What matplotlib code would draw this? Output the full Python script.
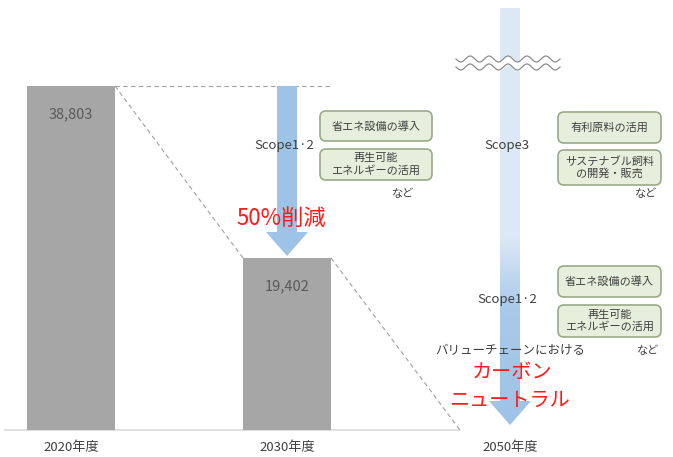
import matplotlib.pyplot as plt
import numpy as np
from matplotlib.patches import FancyBboxPatch, Polygon
from matplotlib.colors import LinearSegmentedColormap

plt.rcParams['font.family'] = ['Noto Sans CJK JP', 'DejaVu Sans']

years = ["2020年度", "2030年度", "2050年度"]
emissions = [38803, 19402]
value_labels = ["38,803", "19,402"]
bar_x = [71, 287]
arrow_x = [287, 510]

# pixel scale: 38,803 t -> 344 px, baseline at pixel y=430
UNIT = emissions[0] / 344.0
BASE = 430


def py(p):
    """pixel y -> data value"""
    return (BASE - p) * UNIT


fig = plt.figure(figsize=(6.73, 4.57), dpi=100)
ax = fig.add_axes([0, 0, 1, 1])
ax.set_xlim(0, 673)
ax.set_ylim(py(457), py(0))
ax.axis("off")

gray = "#A6A6A6"
ax.bar(bar_x, emissions, width=88, color=gray, zorder=2)
ax.plot([5, 460], [0, 0], color="#D9D9D9", lw=1.2, zorder=1)

for x, v, lab in zip(bar_x, emissions, value_labels):
    ax.text(x, v - 28 * UNIT, lab, ha="center", va="center", fontsize=10.5, color="#595959", zorder=3)

for x, lab in zip([71, 287, 510], years):
    ax.text(x, py(447), lab, ha="center", va="center", fontsize=9.5, color="#404040")

# dashed guide lines
dash = dict(color="#A0A0A0", lw=0.8, ls=(0, (4, 3)), zorder=1)
ax.plot([115, 330], [emissions[0], emissions[0]], **dash)
ax.plot([115, 243], [emissions[0], emissions[1]], **dash)
ax.plot([331, 460], [emissions[1], 0], **dash)


def arrow_poly(xc, ytop, ybot, shaft=10, head=21, head_len=24):
    return [(xc - shaft, py(ytop)), (xc + shaft, py(ytop)), (xc + shaft, py(ybot - head_len)),
            (xc + head, py(ybot - head_len)), (xc, py(ybot)), (xc - head, py(ybot - head_len)),
            (xc - shaft, py(ybot - head_len))]


blue = "#9DC3E6"
ax.add_patch(Polygon(arrow_poly(arrow_x[0], 86, 256), closed=True, color=blue, lw=0, zorder=2))

# gradient arrow for 2050
poly = Polygon(arrow_poly(arrow_x[1], 8, 425), closed=True, facecolor="none", lw=0, zorder=2)
ax.add_patch(poly)
cmap = LinearSegmentedColormap.from_list("g", [(0, "#DEE9F5"), (0.55, "#DCE8F5"), (0.72, "#A9CAEA"), (1, "#9DC3E6")])
grad = np.linspace(0, 1, 256).reshape(-1, 1)
im = ax.imshow(grad, cmap=cmap, aspect="auto", extent=[arrow_x[1] - 22, arrow_x[1] + 22, py(425), py(8)],
               origin="upper", zorder=2)
im.set_clip_path(poly)

# wavy break
xs = np.linspace(456, 560, 300)
wave = 3 * np.sin((xs - 456) / 104 * 2 * np.pi * 5.5)
ax.fill_between(xs, py(59 + wave), py(67 + wave), color="white", zorder=2.5)
for off in [59, 67]:
    ax.plot(xs, py(off + wave), color="#8C8C8C", lw=0.9, zorder=3)


def box(x0, y0, x1, y1, text):
    ax.add_patch(FancyBboxPatch((x0, py(y1)), x1 - x0, py(y0) - py(y1),
                                boxstyle="round,pad=0,rounding_size=6",
                                mutation_aspect=UNIT, facecolor="#E6EFDC", edgecolor="#98AA88", lw=1.2, zorder=3))
    ax.text((x0 + x1) / 2, py((y0 + y1) / 2), text, ha="center", va="center", fontsize=8,
            color="#404040", linespacing=1.2, zorder=4)


txt = "#404040"
ax.text(284, py(146), "Scope1·2", ha="center", va="center", fontsize=9.5, color=txt, zorder=4)
box(320, 111, 432, 141, "省エネ設備の導入")
box(320, 149, 432, 180, "再生可能\nエネルギーの活用")
ax.text(403, py(194), "など", ha="center", va="center", fontsize=8, color=txt)
ax.text(281, py(218), "50%削減", ha="center", va="center", fontsize=16, color="#FF1A1A", zorder=4)

ax.text(507, py(146), "Scope3", ha="center", va="center", fontsize=9.5, color=txt, zorder=4)
box(558, 112, 661, 143, "有利原料の活用")
box(558, 150, 661, 185, "サステナブル飼料\nの開発・販売")
ax.text(646, py(194), "など", ha="center", va="center", fontsize=8, color=txt)

ax.text(507, py(299), "Scope1·2", ha="center", va="center", fontsize=9.5, color=txt, zorder=4)
box(558, 266, 661, 297, "省エネ設備の導入")
box(558, 305, 661, 337, "再生可能\nエネルギーの活用")
ax.text(648, py(351), "など", ha="center", va="center", fontsize=8, color=txt)
ax.text(510, py(351), "バリューチェーンにおける", ha="center", va="center", fontsize=9, color=txt, zorder=4)
ax.text(512, py(372), "カーボン", ha="center", va="center", fontsize=14.5, color="#FF1A1A", zorder=4)
ax.text(510, py(400), "ニュートラル", ha="center", va="center", fontsize=14.5, color="#FF1A1A", zorder=4)

fig.savefig("out.png", dpi=100)
